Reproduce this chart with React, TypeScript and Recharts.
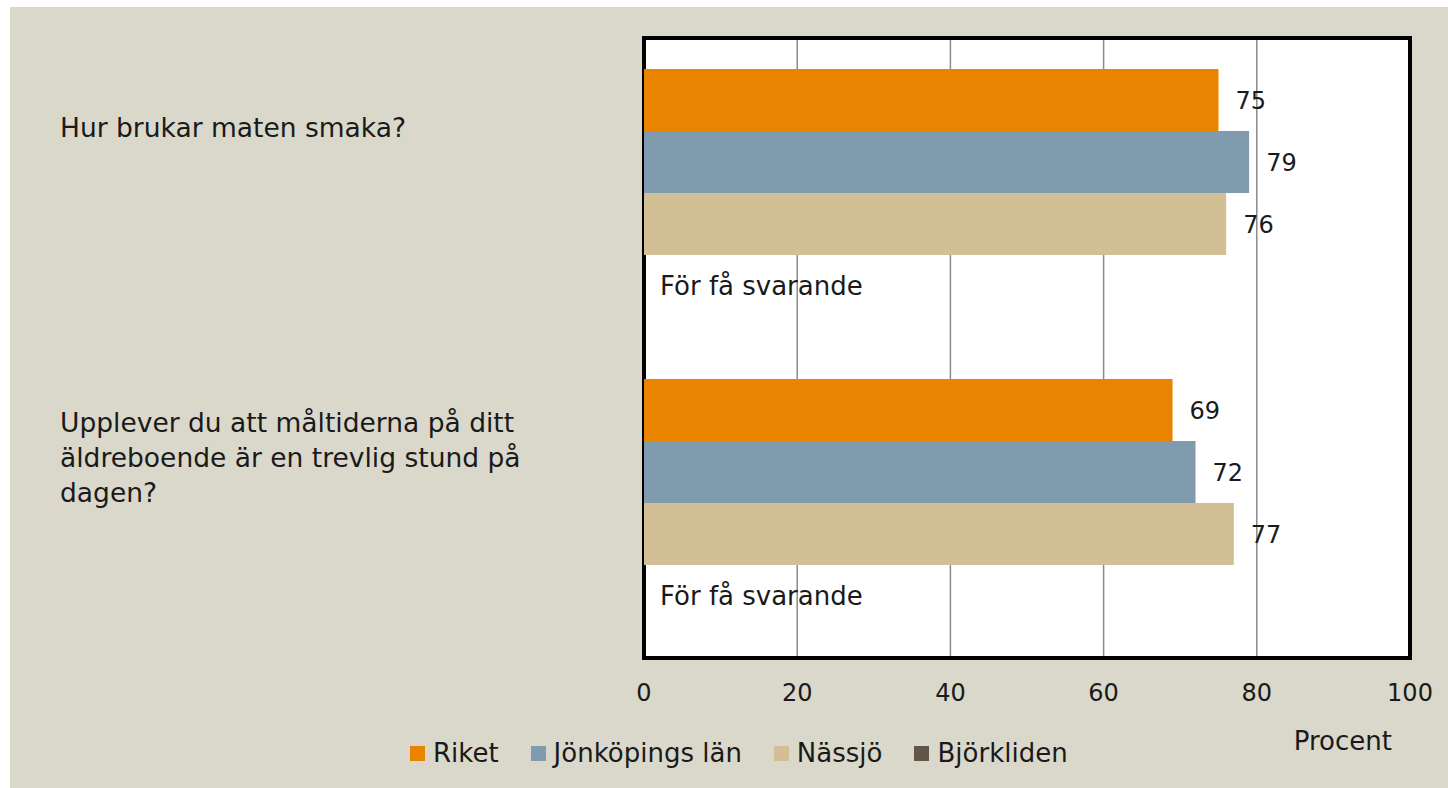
import { BarChart, Bar, XAxis, YAxis, CartesianGrid, LabelList, Legend, ReferenceArea, Label } from 'recharts';

const questions = [
  'Hur brukar maten smaka?',
  'Upplever du att måltiderna på ditt äldreboende är en trevlig stund på dagen?',
];
const riket = [75, 69];
const jonkoping = [79, 72];
const nassjo = [76, 77];
const bjorkliden: (number | null)[] = [null, null];
const xTicks = [0, 20, 40, 60, 80, 100];
const missingText = 'För få svarande';

const series = [
  { key: 'riket', name: 'Riket', color: '#E98300' },
  { key: 'jonkoping', name: 'Jönköpings län', color: '#7F9BAD' },
  { key: 'nassjo', name: 'Nässjö', color: '#D3BF96' },
  { key: 'bjorkliden', name: 'Björkliden', color: '#635548' },
];

const FONT = '"DejaVu Sans", sans-serif';
const INK = '#1a1a1a';

const data = questions.map((q, i) => ({
  question: q,
  riket: riket[i],
  jonkoping: jonkoping[i],
  nassjo: nassjo[i],
  bjorkliden: bjorkliden[i] ?? 0,
  bjorkLabel: bjorkliden[i] == null ? missingText : String(bjorkliden[i]),
}));

// greedy word wrap for the long question text
function wrap(text: string, max: number) {
  const lines: string[] = [];
  let cur = '';
  for (const w of text.split(' ')) {
    if (cur && (cur + ' ' + w).length > max) {
      lines.push(cur);
      cur = w;
    } else {
      cur = cur ? cur + ' ' + w : w;
    }
  }
  if (cur) lines.push(cur);
  return lines;
}

function QuestionTick({ y, payload }: any) {
  const lines = wrap(payload.value, 35);
  const first = y - 56 - (lines.length - 1) * 7.5;
  return (
    <text x={50} y={first} fontSize={26.5} fill={INK} fontFamily={FONT} textAnchor="start">
      {lines.map((l, i) => (
        <tspan key={i} x={50} dy={i === 0 ? 0 : 35}>
          {l}
        </tspan>
      ))}
    </text>
  );
}

function PercentTick({ x, y, payload }: any) {
  return (
    <text x={x} y={y + 35} fontSize={24} fill={INK} fontFamily={FONT} textAnchor="middle" dominantBaseline="central">
      {payload.value}
    </text>
  );
}

function LegendRow() {
  return (
    <div style={{ display: 'flex', alignItems: 'center', fontFamily: FONT, fontSize: 26, color: INK, whiteSpace: 'nowrap' }}>
      {series.map((s) => (
        <div key={s.key} style={{ display: 'flex', alignItems: 'center', marginRight: 32 }}>
          <span style={{ width: 15, height: 15, background: s.color, display: 'inline-block', marginRight: 8 }} />
          <span>{s.name}</span>
        </div>
      ))}
    </div>
  );
}

export default function App() {
  return (
    <div style={{ position: 'absolute', left: 10, top: 7, width: 1438, height: 781, background: '#DAD8CB' }}>
      <BarChart
        width={1438}
        height={781}
        data={data}
        layout="vertical"
        margin={{ top: 31, right: 38, left: 0, bottom: 20 }}
        barCategoryGap="10%"
        barGap={0}
      >
        <CartesianGrid horizontal={false} fill="#ffffff" stroke="#8a8a8a" strokeWidth={1.5} />
        <XAxis
          type="number"
          domain={[0, 100]}
          ticks={xTicks}
          axisLine={false}
          tickLine={false}
          tickSize={0}
          tickMargin={0}
          height={110}
          tick={(p: any) => <PercentTick {...p} />}
        >
          <Label value="Procent" position="insideBottomRight" offset={18} fontSize={26} fill={INK} fontFamily={FONT} />
        </XAxis>
        <YAxis
          type="category"
          dataKey="question"
          width={634}
          axisLine={false}
          tickLine={false}
          tick={(p: any) => <QuestionTick {...p} />}
        />
        <Legend
          layout="horizontal"
          verticalAlign="middle"
          align="center"
          content={() => <LegendRow />}
          wrapperStyle={{ left: 400, top: 731, width: 'auto', height: 30 }}
        />
        {series.slice(0, 3).map((s) => (
          <Bar key={s.key} dataKey={s.key} name={s.name} fill={s.color} isAnimationActive={false}>
            <LabelList dataKey={s.key} position="right" offset={17} fontSize={24} fill={INK} fontFamily={FONT} />
          </Bar>
        ))}
        {/* no data for Björkliden: invisible placeholder bar that only carries the note */}
        <Bar dataKey="bjorkliden" name="Björkliden" fill="#635548" fillOpacity={0} minPointSize={1} isAnimationActive={false}>
          <LabelList dataKey="bjorkLabel" position="right" offset={15} fontSize={26} fill={INK} fontFamily={FONT} />
        </Bar>
        <ReferenceArea x1={0} x2={100} fill="none" stroke="#000000" strokeWidth={4} ifOverflow="visible" />
      </BarChart>
    </div>
  );
}
